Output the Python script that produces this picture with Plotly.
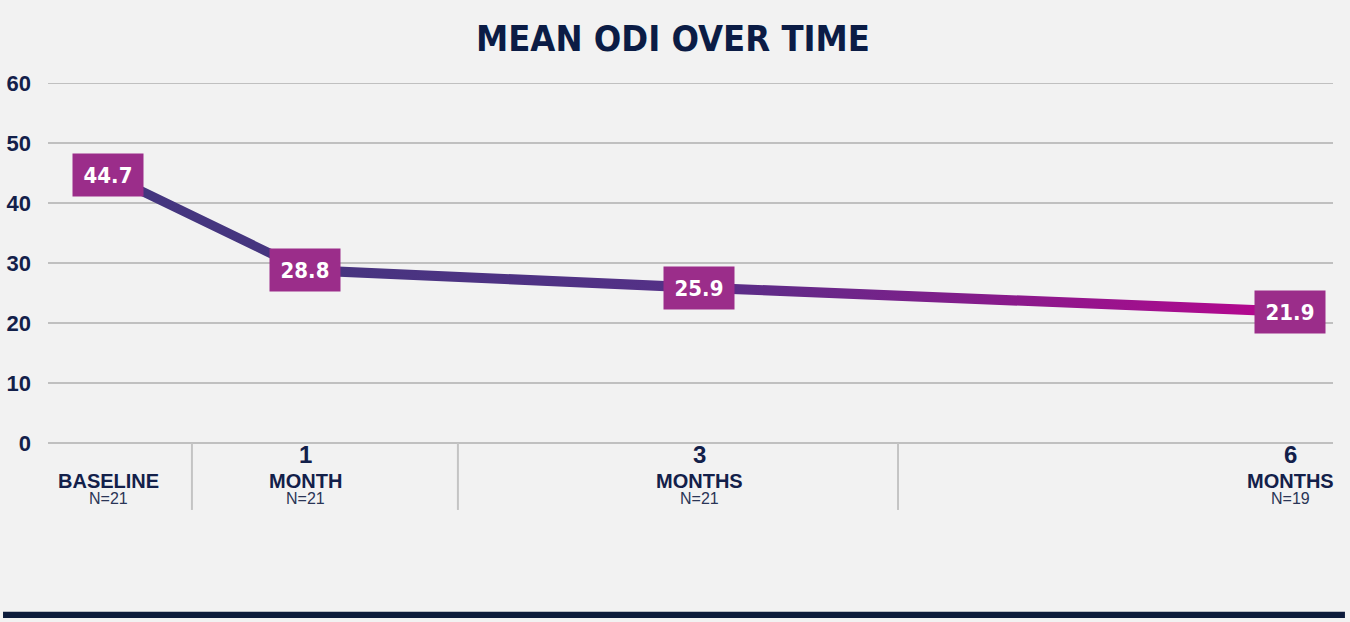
import plotly.graph_objects as go

# ---- data ----
months = [0, 1, 3, 6]
mean_odi = [44.7, 28.8, 25.9, 21.9]
label_num = ["", "1", "3", "6"]
label_unit = ["BASELINE", "MONTH", "MONTHS", "MONTHS"]
label_n = ["N=21", "N=21", "N=21", "N=19"]
y_ticks = [0, 10, 20, 30, 40, 50, 60]

NAVY = "#13204a"
BG = "#f2f2f2"
GRID = "#c0c0c0"
COND = "DejaVu Sans Condensed, Liberation Sans Narrow, Arial Narrow, sans-serif"
SANS = "Liberation Sans, Arial, Helvetica, sans-serif"

half = 0.85  # half line thickness in y units (style)
poly_x = months + months[::-1]
poly_y = [v - half for v in mean_odi] + [v + half for v in mean_odi[::-1]]

fig = go.Figure()
fig.add_trace(go.Scatter(
    x=poly_x, y=poly_y, mode="lines", fill="toself",
    line=dict(width=0, color="rgba(0,0,0,0)"),
    fillgradient=dict(type="horizontal",
                      colorscale=[[0, "#44367f"], [0.17, "#46357f"],
                                  [0.5, "#553087"], [1, "#b8068f"]]),
    hoverinfo="skip", showlegend=False,
))

annotations = []
for m, v in zip(months, mean_odi):
    annotations.append(dict(
        x=m, y=v, xref="x", yref="y", text=f"{v:.1f}", showarrow=False,
        font=dict(family=COND, size=22, color="white", weight="bold"),
        bgcolor="#9b2d8a", width=68, height=40, align="center", valign="middle",
    ))
for m, a, b, c in zip(months, label_num, label_unit, label_n):
    if a:
        annotations.append(dict(x=m, y=-0.033, xref="x", yref="paper", text=a,
                                showarrow=False, yanchor="middle",
                                font=dict(family=SANS, size=24, color=NAVY, weight="bold")))
    annotations.append(dict(x=m, y=-0.106, xref="x", yref="paper", text=b,
                            showarrow=False, yanchor="middle",
                            font=dict(family=SANS, size=20, color=NAVY, weight="bold")))
    annotations.append(dict(x=m, y=-0.155, xref="x", yref="paper", text=c,
                            showarrow=False, yanchor="middle",
                            font=dict(family=SANS, size=16, color="#2a3556")))

shapes = [dict(type="line", xref="paper", yref="y", x0=0, x1=1, y0=y_ticks[-1], y1=y_ticks[-1],
               line=dict(color=GRID, width=2), layer="below")]
for xp in [0.112, 0.319, 0.6615]:
    shapes.append(dict(type="line", xref="paper", yref="paper", x0=xp, x1=xp,
                       y0=0, y1=-0.186, line=dict(color="#c4c4c4", width=2)))
shapes.append(dict(type="rect", xref="paper", yref="paper", x0=-0.035, x1=1.0093,
                   y0=-0.469, y1=-0.486, fillcolor="#0c1b3b", line=dict(width=0)))

fig.update_layout(
    width=1350, height=622,
    paper_bgcolor=BG, plot_bgcolor=BG,
    margin=dict(l=48, r=17, t=83, b=179, autoexpand=False),
    title=dict(text="MEAN ODI OVER TIME", x=0.4985, xref="container",
               y=1 - 38 / 622, yref="container", xanchor="center", yanchor="middle",
               font=dict(family=COND, size=36, color="#0b1c45", weight="bold")),
    xaxis=dict(range=[-0.3046, 6.2183], showgrid=False, zeroline=False,
               showticklabels=False, fixedrange=True, automargin=False),
    yaxis=dict(range=[0, 60], tickvals=y_ticks, showgrid=True, gridcolor=GRID,
               gridwidth=2, zeroline=True, zerolinecolor=GRID, zerolinewidth=2,
               tickfont=dict(family=SANS, size=22, color=NAVY, weight="bold"),
               ticklabelstandoff=16, fixedrange=True, automargin=False),
    annotations=annotations, shapes=shapes, showlegend=False,
)

fig.write_html("out.html", config={"displayModeBar": False},
               post_script="document.body.style.margin='0';document.body.style.background='#f2f2f2';")
